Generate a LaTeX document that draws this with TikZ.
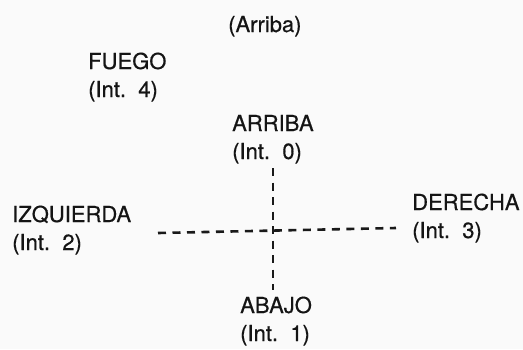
\documentclass[tikz,border=0pt]{standalone}
\usepackage{fontspec}
\setmainfont{TeX Gyre Heros}
\newfontfamily\lblfont{TeX Gyre Heros}[FakeBold=0.5]
\begin{document}
\begin{tikzpicture}[x=1pt,y=-1pt,
  lbl/.style={anchor=base west,inner sep=0pt,font=\lblfont\fontsize{22}{28}\selectfont,text=black!92},
  axis/.style={line width=2.6pt,dash pattern=on 8pt off 6.5pt,draw=black!90}]
\fill[white!96!gray] (0,0) rectangle (523,349);
\useasboundingbox (0,0) rectangle (523,349);
\newcommand{\twoline}[2]{\begin{tabular}[t]{@{}l@{}}#1\\#2\end{tabular}}
\node[lbl] (arr) at (228,32) {(Arriba)};
\node[lbl] (fuego) at (88,69) {\twoline{FUEGO}{(Int.~~4)}};
\node[lbl] (arriba) at (232,131) {\twoline{ARRIBA}{(Int.~~0)}};
\node[lbl] (izq) at (12,222) {\twoline{IZQUIERDA}{(Int.~~2)}};
\node[lbl] (der) at (412,210) {\twoline{DERECHA}{(Int.~~3)}};
\node[lbl] (abajo) at (240,313) {\twoline{ABAJO}{(Int.~~1)}};
\coordinate (top) at (273,168);
\coordinate (bot) at (273,290);
\coordinate (lft) at (158,233);
\coordinate (rgt) at (396,228);
\draw[axis] (top) -- (bot);
\draw[axis] (lft) -- (rgt);
\end{tikzpicture}
\end{document}
